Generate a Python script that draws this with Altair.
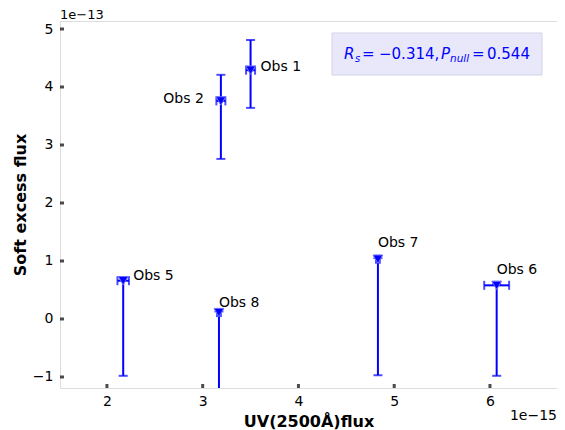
import altair as alt
import pandas as pd

# ---- data ----
obs = ["Obs 1", "Obs 2", "Obs 5", "Obs 6", "Obs 7", "Obs 8"]
uv = [3.50, 3.19, 2.17, 6.07, 4.83, 3.17]            # x1e-15
uv_err = [0.047, 0.047, 0.06, 0.13, 0.02, 0.02]
soft = [4.29, 3.76, 0.66, 0.58, 1.03, 0.11]          # x1e-13
soft_lo = [3.64, 2.76, -0.98, -0.98, -0.97, -1.60]
soft_hi = [4.81, 4.21, 0.72, 0.60, 1.05, 0.13]

x_ticks = [2, 3, 4, 5, 6]
y_ticks = [-1, 0, 1, 2, 3, 4, 5]
x_domain = [1.51, 6.70]
y_domain = [-1.19, 5.138]

rs_text = "−0.314,"
pnull_text = "0.544"

df = pd.DataFrame({"obs": obs, "uv": uv, "uv_err": uv_err, "soft": soft,
                   "soft_lo": soft_lo, "soft_hi": soft_hi})
df["uv_lo"] = df["uv"] - df["uv_err"]
df["uv_hi"] = df["uv"] + df["uv_err"]

FONT = "DejaVu Sans"
BLUE = "#0000ff"
W, H = 497, 367

xs = alt.Scale(domain=x_domain, nice=False, zero=False)
ys = alt.Scale(domain=y_domain, nice=False, zero=False)

base = alt.Chart(df)

X = lambda f: alt.X(f, type="quantitative", scale=xs,
                    axis=alt.Axis(values=x_ticks, title="UV(2500Å)flux", tickSize=0,
                                  domain=False, grid=False, labelPadding=6,
                                  titlePadding=5, labelFontSize=14, titleFontSize=16,
                                  titleFontWeight="bold", labelColor="black",
                                  titleColor="black", labelFont=FONT, titleFont=FONT))
Y = lambda f: alt.Y(f, type="quantitative", scale=ys,
                    axis=alt.Axis(values=y_ticks, title="Soft excess flux", tickSize=0,
                                  domain=False, grid=False, labelPadding=7,
                                  titlePadding=4, labelFontSize=14, titleFontSize=16,
                                  titleFontWeight="bold", labelColor="black",
                                  titleColor="black", labelFont=FONT, titleFont=FONT))

vbar = base.mark_rule(color=BLUE, strokeWidth=2, clip=True).encode(
    x=X("uv"), y=Y("soft_lo"), y2="soft_hi")
hbar = base.mark_rule(color=BLUE, strokeWidth=2, clip=True).encode(
    x=X("uv_lo"), x2="uv_hi", y=Y("soft"))
cap_lo = base.mark_tick(color=BLUE, orient="horizontal", size=9, thickness=2, clip=True).encode(
    x=X("uv"), y=Y("soft_lo"))
cap_hi = base.mark_tick(color=BLUE, orient="horizontal", size=9, thickness=2, clip=True).encode(
    x=X("uv"), y=Y("soft_hi"))
xcap_lo = base.mark_tick(color=BLUE, orient="vertical", size=9, thickness=2, clip=True).encode(
    x=X("uv_lo"), y=Y("soft"))
xcap_hi = base.mark_tick(color=BLUE, orient="vertical", size=9, thickness=2, clip=True).encode(
    x=X("uv_hi"), y=Y("soft"))
pts = base.mark_point(shape="triangle-down", filled=True, color=BLUE, size=95,
                      opacity=1, stroke="#6f6fff", strokeWidth=1).encode(
    x=X("uv"), y=Y("soft"))

# label offsets (style)
label_style = {
    "Obs 1": dict(dx=10, dy=-3, align="left"),
    "Obs 2": dict(dx=-17, dy=-2, align="right"),
    "Obs 5": dict(dx=10, dy=-5, align="left"),
    "Obs 6": dict(dx=0, dy=-15, align="left"),
    "Obs 7": dict(dx=0, dy=-16, align="left"),
    "Obs 8": dict(dx=0, dy=-10, align="left"),
}
labels = []
for name, st in label_style.items():
    labels.append(
        alt.Chart(df[df["obs"] == name]).mark_text(
            font=FONT, fontSize=14, color="black", baseline="middle", **st
        ).encode(x=X("uv"), y=Y("soft"), text="obs")
    )

# inward ticks
tick_df_x = pd.DataFrame({"t": x_ticks, "y0": [y_domain[0]] * len(x_ticks)})
tick_df_y = pd.DataFrame({"t": y_ticks, "x0": [x_domain[0]] * len(y_ticks)})
xt = alt.Chart(tick_df_x).mark_tick(color="black", orient="vertical", size=4,
                                     thickness=3, yOffset=-2).encode(x=X("t"), y=Y("y0"))
yt = alt.Chart(tick_df_y).mark_tick(color="black", orient="horizontal", size=4,
                                     thickness=3, xOffset=2).encode(x=X("x0"), y=Y("t"))

# correlation box
one = pd.DataFrame({"a": [0]})
box = alt.Chart(one).mark_rect(fill="#e6e6fa", stroke="#cfcfe6", strokeWidth=1,
                               opacity=0.9).encode(
    x=alt.value(272), x2=alt.value(482), y=alt.value(12), y2=alt.value(54))
TB = 38
tpieces = [
    ("R", 284, 0, 15, "italic"),
    ("s", 295, 3, 10, "italic"),
    ("=", 302, 0, 15, "normal"),
    (rs_text, 319, 0, 15, "normal"),
    ("P", 381, 0, 15, "italic"),
    ("null", 390, 3, 10.5, "italic"),
    ("=", 412, 0, 15, "normal"),
    (pnull_text, 427, 0, 15, "normal"),
]
tlayers = []
for txt, px, dy, fs, style in tpieces:
    tlayers.append(alt.Chart(one).mark_text(
        text=txt, font=FONT, fontSize=fs, fontStyle=style, color=BLUE,
        align="left", baseline="alphabetic", dy=dy).encode(
        x=alt.value(px), y=alt.value(TB)))

exp_y = alt.Chart(one).mark_text(text="1e−13", font=FONT, fontSize=13, align="left",
                                 baseline="top", color="black").encode(
    x=alt.value(0), y=alt.value(-12))
exp_x = alt.Chart(one).mark_text(text="1e−15", font=FONT, fontSize=14, align="right",
                                 baseline="middle", color="black").encode(
    x=alt.value(W), y=alt.value(395))

chart = alt.layer(
    box, *tlayers, vbar, hbar, cap_lo, cap_hi, xcap_lo, xcap_hi, pts, *labels,
    xt, yt, exp_y, exp_x
).properties(
    width=W, height=H,
    autosize=alt.AutoSizeParams(type="none"),
    padding={"left": 52, "top": 13, "right": 0, "bottom": 42},
).configure_view(stroke="black", strokeWidth=1.3).configure(background="white")

chart.save("out.html", embed_options={"renderer": "svg", "actions": False})
